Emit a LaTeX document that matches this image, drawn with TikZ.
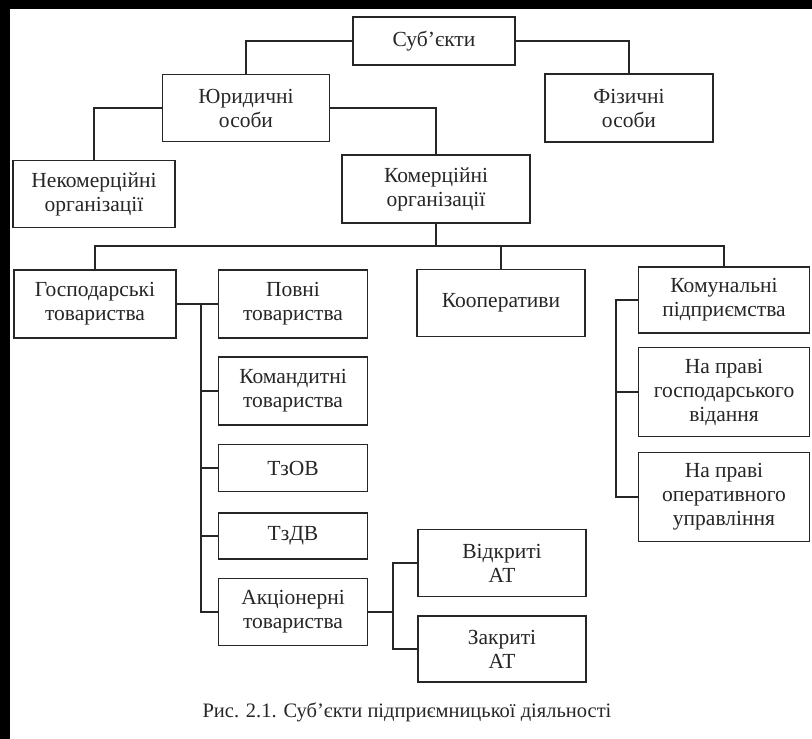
\documentclass[tikz,border=0pt]{standalone}
\usepackage{fontspec}
\setmainfont{Liberation Serif}
\usetikzlibrary{positioning}

\begin{document}
\begin{tikzpicture}[
    x=1pt, y=-1pt,
    box/.style={rectangle, draw=black!85, line width=1.6pt, align=center,
        text=black!85, inner sep=2pt, font=\fontsize{21.5}{24}\selectfont},
    link/.style={draw=black!85, line width=1.6pt},
    caption/.style={text=black!85, font=\fontsize{20.5}{24}\selectfont}
]
\useasboundingbox (0,0) rectangle (812,739);
\fill[black] (0,0) rectangle (812,739);
\fill[white] (10,9) rectangle (812,739);

% top levels
\node [box, minimum width=162, minimum height=48] (Subj) at (434,41) {Суб’єкти};
\node [box, minimum width=167, minimum height=67] (Jur) at (246,108) {Юридичні\\особи};
\node [box, minimum width=168, minimum height=68] (Fiz) at (629,108) {Фізичні\\особи};
\node [box, minimum width=162, minimum height=67] (Nekom) at (94,194) {Некомерційні\\організації};
\node [box, minimum width=188, minimum height=68] (Kom) at (436,189) {Комерційні\\організації};

% commercial organisations
\node [box, minimum width=162, minimum height=68] (Gosp) at (95,304) {Господарські\\товариства};
\node [box, minimum width=168, minimum height=67] (Koop) at (501,303) {Кооперативи};
\node [box, minimum width=171, minimum height=66] (Komun) at (724,300) {Комунальні\\підприємства};

% business partnerships
\node [box, minimum width=149, minimum height=68] (Povni) at (293,304) {Повні\\товариства};
\node [box, minimum width=149, minimum height=68] (Komand) at (293,391) {Командитні\\товариства};
\node [box, minimum width=149, minimum height=47] (TzOV) at (293,468) {ТзОВ};
\node [box, minimum width=149, minimum height=46] (TzDV) at (293,536) {ТзДВ};
\node [box, minimum width=149, minimum height=67] (Akc) at (293,612) {Акціонерні\\товариства};
\node [box, minimum width=168, minimum height=67] (Vidkr) at (502,563) {Відкриті\\АТ};
\node [box, minimum width=168, minimum height=66] (Zakr) at (502,649) {Закриті\\АТ};

% communal enterprises
\node [box, minimum width=171, minimum height=89] (NaGosp) at (724,392) {На праві\\господарського\\відання};
\node [box, minimum width=171, minimum height=89] (NaOper) at (724,497) {На праві\\оперативного\\управління};

\node [caption] (Cap) at (407,712) {Рис. 2.1. Суб’єкти підприємницької діяльності};

\coordinate (Bus) at (443,246);
\coordinate (SpA) at (201,0);
\coordinate (SpB) at (393,0);
\coordinate (SpC) at (616,0);

\draw [link] (Subj.west) -| (Jur.north);
\draw [link] (Subj.east) -| (Fiz.north);
\draw [link] (Jur.west) -| (Nekom.north);
\draw [link] (Jur.east) -| (Kom.north);

\draw [link] (Gosp.north) |- (Bus) -| (Komun.north);
\draw [link] (Kom.south) -- (Kom.south |- Bus);
\draw [link] (Koop.north) -- (Koop.north |- Bus);

\draw [link] (Gosp.east) -- (Povni.west);
\draw [link] (Povni.west -| SpA) |- (Akc.west);
\foreach \n in {Komand, TzOV, TzDV}
    \draw [link] (\n.west) -- (\n.west -| SpA);

\draw [link] (Akc.east) -- (Akc.east -| SpB);
\draw [link] (Vidkr.west) -- (Vidkr.west -| SpB) |- (Zakr.west);

\draw [link] (Komun.west) -- (Komun.west -| SpC) |- (NaOper.west);
\draw [link] (NaGosp.west) -- (NaGosp.west -| SpC);

\end{tikzpicture}
\end{document}
